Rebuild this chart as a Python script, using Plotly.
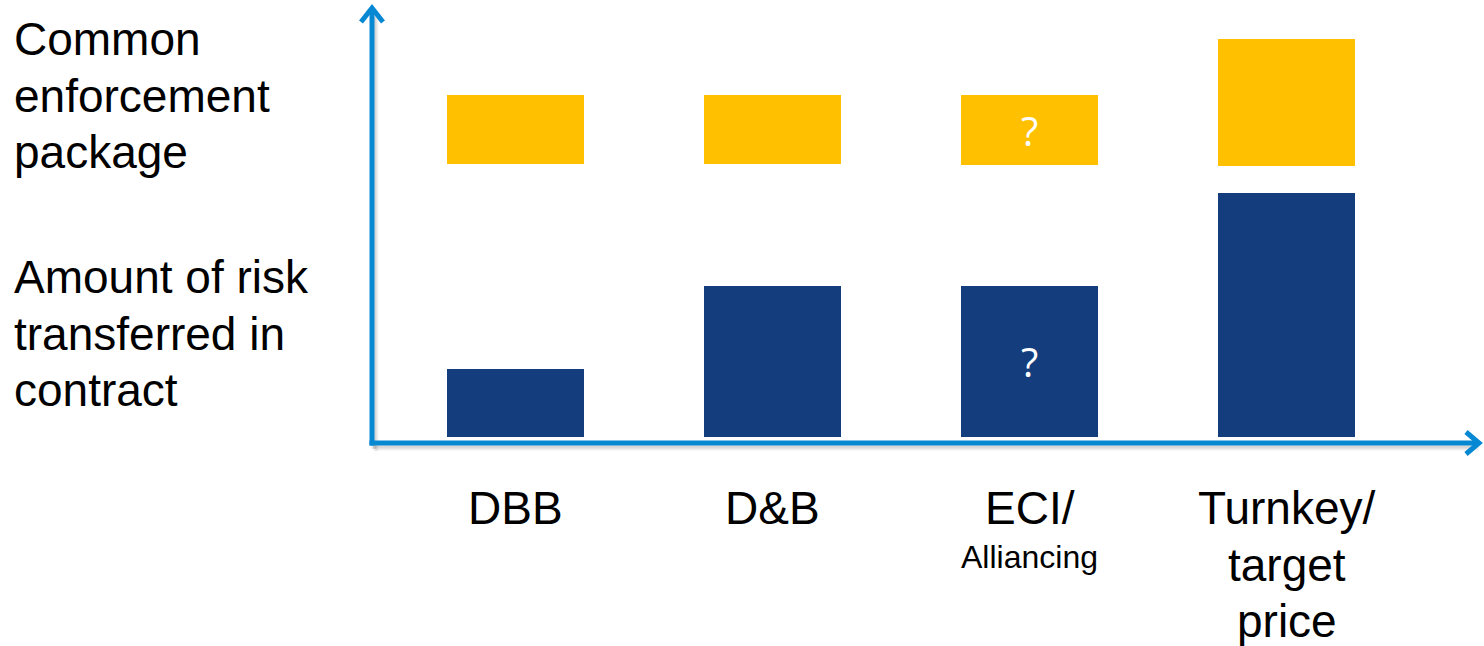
import plotly.graph_objects as go

W, H = 1484, 646

# ---- data ----
categories = ["DBB", "D&B", "ECI/Alliancing", "Turnkey/target price"]
risk_transferred = [2.8, 6.2, 6.2, 10.0]          # navy bars (from baseline)
enforcement_base = [11.2, 11.2, 11.15, 11.1]      # yellow bars start
enforcement_top = [14.0, 14.0, 14.0, 16.3]        # yellow bars end
risk_marks = ["", "", "?", ""]
enforcement_marks = ["", "", "?", ""]
x_label_lines = [["DBB"], ["D&B"], ["ECI/"], ["Turnkey/", "target", "price"]]
x_sublabels = ["", "", "Alliancing", ""]
row_label_lines = [["Common", "enforcement", "package"],
                   ["Amount of risk", "transferred in", "contract"]]

enforcement_height = [t - b for t, b in zip(enforcement_top, enforcement_base)]

NAVY = "#143D7E"
YELLOW = "#FFC000"
AXIS = "#0788D3"
FONT = "Liberation Sans"
FS = 46
LINE = 56.5


def X(px):
    return px / W


def Y(py):
    return 1 - py / H


fig = go.Figure()

fig.add_trace(go.Bar(
    x=categories, y=risk_transferred, width=0.533,
    marker=dict(color=NAVY, line=dict(width=0)),
    text=risk_marks, textposition="inside", insidetextanchor="middle",
    textangle=0, constraintext="none",
    textfont=dict(family="Open Sans", size=40, color="white"),
    hoverinfo="skip", showlegend=False,
))
fig.add_trace(go.Bar(
    x=categories, y=enforcement_height, base=enforcement_base, width=0.533,
    marker=dict(color=YELLOW, line=dict(width=0)),
    text=enforcement_marks, textposition="inside", insidetextanchor="middle",
    textangle=0, constraintext="none",
    textfont=dict(family="Open Sans", size=40, color="white"),
    hoverinfo="skip", showlegend=False,
))

shapes = []
# shadows of the axes
for off, op in [(3, 0.10), (5, 0.06)]:
    shapes.append(dict(type="line", xref="paper", yref="paper",
                       x0=X(372 + off - 2), x1=X(1476 + off - 2),
                       y0=Y(443 + off), y1=Y(443 + off),
                       line=dict(color=f"rgba(0,0,0,{op})", width=5), layer="below"))
    shapes.append(dict(type="line", xref="paper", yref="paper",
                       x0=X(372 + off - 1), x1=X(372 + off - 1),
                       y0=Y(446 + off), y1=Y(12 + off),
                       line=dict(color=f"rgba(0,0,0,{op})", width=5), layer="below"))
# axis lines
shapes.append(dict(type="line", xref="paper", yref="paper",
                   x0=X(369.5), x1=X(1478), y0=Y(443), y1=Y(443),
                   line=dict(color=AXIS, width=5)))
shapes.append(dict(type="line", xref="paper", yref="paper",
                   x0=X(372), x1=X(372), y0=Y(445.5), y1=Y(8),
                   line=dict(color=AXIS, width=5)))
# arrow heads
shapes.append(dict(type="path", xref="paper", yref="paper",
                   path=f"M {X(361)},{Y(22)} L {X(372)},{Y(8)} L {X(383)},{Y(22)}",
                   line=dict(color=AXIS, width=5)))
shapes.append(dict(type="path", xref="paper", yref="paper",
                   path=f"M {X(1466)},{Y(432)} L {X(1479)},{Y(443)} L {X(1466)},{Y(454)}",
                   line=dict(color=AXIS, width=5)))

annotations = []
for cat, lines, sub in zip(categories, x_label_lines, x_sublabels):
    for i, line in enumerate(lines):
        annotations.append(dict(x=cat, xref="x", y=Y(480 + i * LINE), yref="paper",
                                text=line, showarrow=False, xanchor="center", yanchor="top",
                                font=dict(family=FONT, size=FS, color="black")))
    if sub:
        annotations.append(dict(x=cat, xref="x", y=Y(537), yref="paper",
                                text=sub, showarrow=False, xanchor="center", yanchor="top",
                                font=dict(family=FONT, size=32, color="black")))
for lines, top in zip(row_label_lines, [11, 249]):
    for i, line in enumerate(lines):
        annotations.append(dict(x=X(12), xref="paper", y=Y(top + i * LINE), yref="paper",
                                text=line, showarrow=False, xanchor="left", yanchor="top",
                                font=dict(family=FONT, size=FS, color="black")))

fig.update_layout(
    width=W, height=H,
    margin=dict(l=0, r=0, t=0, b=0),
    paper_bgcolor="white", plot_bgcolor="white",
    barmode="overlay", bargap=0,
    xaxis=dict(type="category", categoryorder="array", categoryarray=categories,
               range=[-2.006, 3.768], visible=False, fixedrange=True),
    yaxis=dict(range=[-8.566, 17.91], visible=False, fixedrange=True),
    shapes=shapes, annotations=annotations,
)

fig.write_html("out.html", config={"displayModeBar": False})
